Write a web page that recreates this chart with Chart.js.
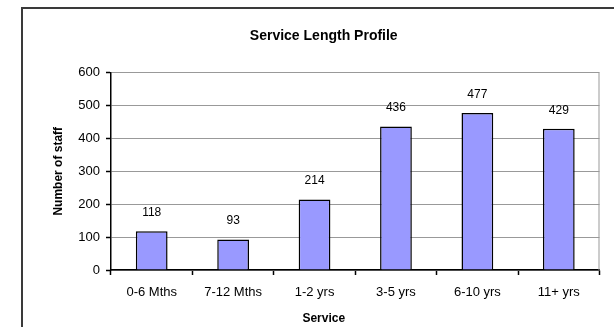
<!DOCTYPE html>
<html lang="en">
<head>
    <meta charset="UTF-8">
    <title>Service Length Profile</title>
    <script src="https://cdn.jsdelivr.net/npm/chart.js@4.4.0/dist/chart.umd.min.js"></script>
    <style>
        * {
            box-sizing: border-box;
        }
        body {
            margin: 0;
            background-color: #ffffff;
            overflow: hidden;
        }
        .frame {
            position: absolute;
            left: 21px;
            top: 7px;
            width: 700px;
            height: 400px;
            border: 2px solid #3a3a3a;
        }
        .chart-box {
            position: absolute;
            left: 0;
            top: 0;
            width: 614px;
            height: 327px;
        }
    </style>
</head>
<body>
    <div class="frame"></div>
    <div class="chart-box">
        <canvas id="serviceChart"></canvas>
    </div>

    <script>
        const categories = ['0-6 Mths', '7-12 Mths', '1-2 yrs', '3-5 yrs', '6-10 yrs', '11+ yrs'];
        const staffCounts = [118, 93, 214, 436, 477, 429];
        const yTicks = [0, 100, 200, 300, 400, 500, 600];

        const fontFamily = '"Liberation Sans", Arial, sans-serif';

        // value labels above each bar, plus the grey right edge of the plot area
        const barLabels = {
            id: 'barLabels',
            beforeDatasetsDraw(chart) {
                const { ctx, chartArea } = chart;
                ctx.save();
                ctx.strokeStyle = '#999999';
                ctx.lineWidth = 1;
                ctx.beginPath();
                ctx.moveTo(chartArea.right - 0.5, chartArea.top);
                ctx.lineTo(chartArea.right - 0.5, chartArea.bottom);
                ctx.stroke();
                ctx.restore();
            },
            afterDatasetsDraw(chart) {
                const { ctx } = chart;
                const meta = chart.getDatasetMeta(0);
                ctx.save();
                ctx.font = '12px ' + fontFamily;
                ctx.fillStyle = '#000000';
                ctx.textAlign = 'center';
                ctx.textBaseline = 'middle';
                meta.data.forEach((bar, i) => {
                    ctx.fillText(String(staffCounts[i]), bar.x, bar.y - 18.5);
                });
                ctx.restore();
            }
        };

        const ctx = document.getElementById('serviceChart').getContext('2d');

        new Chart(ctx, {
            type: 'bar',
            data: {
                labels: categories,
                datasets: [{
                    label: 'Number of staff',
                    data: staffCounts,
                    backgroundColor: '#9999ff',
                    borderColor: '#000000',
                    borderWidth: 1.5,
                    barPercentage: 0.39,
                    categoryPercentage: 1
                }]
            },
            options: {
                responsive: true,
                maintainAspectRatio: false,
                animation: false,
                layout: {
                    padding: { left: 48, right: 14.5, top: 0, bottom: 0 }
                },
                plugins: {
                    legend: { display: false },
                    tooltip: { enabled: false },
                    title: {
                        display: true,
                        text: 'Service Length Profile',
                        color: '#000000',
                        font: { family: fontFamily, size: 14, weight: 'bold' },
                        padding: { top: 27.6, bottom: 28.1 }
                    },
                    // x-axis caption, centred under the whole chart
                    subtitle: {
                        display: true,
                        position: 'bottom',
                        text: 'Service',
                        color: '#000000',
                        font: { family: fontFamily, size: 12, weight: 'bold' },
                        padding: { top: 0, bottom: 1.5 }
                    }
                },
                scales: {
                    x: {
                        afterFit(scale) { scale.height = 41.1; },
                        grid: {
                            drawOnChartArea: false,
                            drawTicks: true,
                            tickLength: 5,
                            tickColor: '#000000',
                            tickWidth: 1.5
                        },
                        border: { color: '#000000', width: 1.5 },
                        ticks: {
                            color: '#000000',
                            padding: 10,
                            maxRotation: 0,
                            font: { family: fontFamily, size: 13 }
                        }
                    },
                    y: {
                        min: 0,
                        max: 600,
                        afterFit(scale) { scale.width = 63; },
                        afterBuildTicks(scale) {
                            scale.ticks = yTicks.map(v => ({ value: v }));
                        },
                        grid: {
                            color: '#999999',
                            lineWidth: 1,
                            drawTicks: true,
                            tickLength: 5,
                            tickColor: '#000000',
                            tickWidth: 1.5
                        },
                        border: { color: '#000000', width: 1.5 },
                        ticks: {
                            color: '#000000',
                            padding: 6,
                            font: { family: fontFamily, size: 13 }
                        },
                        title: {
                            display: true,
                            text: 'Number of staff',
                            color: '#000000',
                            font: { family: fontFamily, size: 12, weight: 'bold' },
                            padding: { top: 3, bottom: 0 }
                        }
                    }
                }
            },
            plugins: [barLabels]
        });
    </script>
</body>
</html>
